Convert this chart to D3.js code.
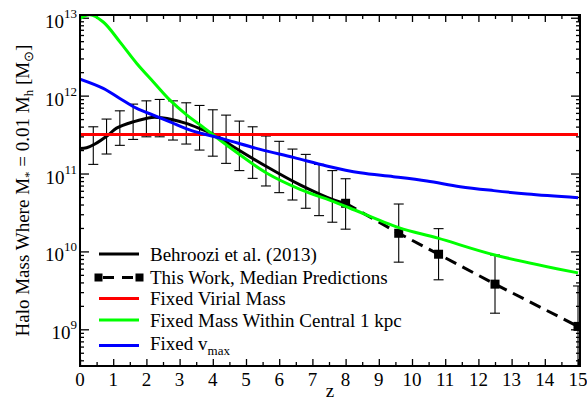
<!DOCTYPE html>
<html>
<head>
<meta charset="utf-8">
<script src="https://cdn.jsdelivr.net/npm/d3@7"></script>
<style>
  body { margin: 0; background: #fff; }
  text { font-family: "Liberation Serif", "Times New Roman", serif; fill: #000; }
</style>
</head>
<body>
<svg id="chart" width="587" height="402"></svg>
<script>
// Behroozi et al. (2013) median relation and its uncertainty
const behrooziZ = [0, 0.2, 0.45, 0.85, 1.1, 1.6, 2.16, 2.46, 3.17, 3.67, 4.07, 4.62, 5.63, 6.63, 7.64, 8];
const behrooziM = [2.10e11, 2.14e11, 2.39e11, 3.12e11, 3.83e11, 4.61e11, 5.25e11, 5.19e11, 4.44e11, 3.69e11, 3.12e11, 2.21e11, 1.22e11, 7.13e10, 4.57e10, 4.15e10];
const behrooziErrZ  = [0.4, 0.8, 1.2, 1.6, 2.0, 2.4, 2.8, 3.2, 3.6, 4.0, 4.4, 4.8, 5.2, 5.6, 6.0, 6.4, 6.8, 7.2, 7.6, 8.0];
const behrooziErrHi = [3.98e11, 5.0e11, 6.38e11, 7.78e11, 8.57e11, 8.93e11, 8.57e11, 8.09e11, 7.48e11, 6.58e11, 5.62e11, 4.71e11, 3.98e11, 3.03e11, 2.59e11, 2.06e11, 1.76e11, 1.31e11, 1.09e11, 8.57e10];
const behrooziErrLo = [1.31e11, 1.78e11, 2.30e11, 2.74e11, 2.96e11, 2.96e11, 2.69e11, 2.39e11, 2.0e11, 1.67e11, 1.35e11, 1.09e11, 8.67e10, 6.92e10, 5.68e10, 4.57e10, 3.58e10, 2.88e10, 2.37e10, 1.93e10];

// Median predictions of this work
const workZ  = [8, 9.6, 10.8, 12.5, 15];
const workM  = [4.15e10, 1.71e10, 9.2e9, 3.8e9, 1.09e9];
const workErrZ  = [9.6, 10.8, 12.5, 15];
const workErrHi = [4.06e10, 1.96e10, 9.0e9, 3.6e9];
const workErrLo = [7.28e9, 4.32e9, 1.61e9, 1.0e8];

// Fixed virial mass
const virialZ = [0, 15];
const virialM = [3.16e11, 3.16e11];

// Fixed mass within the central 1 kpc
const centralZ = [0, 0.3, 0.7, 1.2, 1.71, 2.21, 2.71, 3.22, 3.62, 4.62, 5.63, 6.63, 7.64, 8.14, 9.6, 10.78, 12.49, 15];
const centralM = [9.77e12, 1.09e13, 8.81e12, 4.90e12, 2.59e12, 1.50e12, 8.75e11, 5.62e11, 4.19e11, 2.0e11, 1.01e11, 6.27e10, 4.35e10, 3.58e10, 2.02e10, 1.48e10, 9.0e9, 5.3e9];

// Fixed v_max
const vmaxZ = [0, 0.7, 1.2, 1.71, 2.21, 2.71, 3.32, 4.36, 5.43, 6.43, 7.43, 8.44, 9.44, 10.45, 11.45, 12.46, 13.47, 15];
const vmaxM = [1.63e12, 1.24e12, 9.20e11, 6.85e11, 5.62e11, 4.61e11, 3.61e11, 2.74e11, 2.04e11, 1.61e11, 1.25e11, 1.02e11, 9.1e10, 8.0e10, 6.78e10, 6.03e10, 5.46e10, 4.9e10];

// Axis ticks
const xTicks = d3.range(0, 16);
const xMinorTicks = d3.range(0.5, 15, 1);
const yTicks = [1e9, 1e10, 1e11, 1e12, 1e13];
const yTickExp = ["9", "10", "11", "12", "13"];

const legendLabels = ["Behroozi et al. (2013)", "This Work, Median Predictions", "Fixed Virial Mass", "Fixed Mass Within Central 1 kpc", "Fixed v"];

const svg = d3.select("#chart");
const L = 80, R = 580, T = 15, B = 366;

const x = d3.scaleLinear().domain([0, 15.06]).range([L, R]);
const y = d3.scaleLog().domain([3.38e8, 1.084e13]).range([B, T]);

// log minor ticks: 2..9 within each decade
const yMinor = [];
for (let e = 8; e <= 13; e++) for (let k = 2; k <= 9; k++) {
  const v = k * Math.pow(10, e);
  if (v > y.domain()[0] && v < y.domain()[1]) yMinor.push(v);
}

svg.append("defs").append("clipPath").attr("id", "plot-clip")
  .append("rect").attr("x", L).attr("y", T).attr("width", R - L).attr("height", B - T);

// ---- axes (ticks point inward on all four sides) ----
function tickAxis(axis, g) {
  g.call(axis);
  g.select(".domain").remove();
  g.selectAll("line").attr("stroke", "#000").attr("stroke-width", 1.3);
}
tickAxis(d3.axisBottom(x).tickValues(xTicks).tickSize(-7).tickFormat(""), svg.append("g").attr("transform", `translate(0,${B})`));
tickAxis(d3.axisBottom(x).tickValues(xMinorTicks).tickSize(-4).tickFormat(""), svg.append("g").attr("transform", `translate(0,${B})`));
tickAxis(d3.axisTop(x).tickValues(xTicks).tickSize(-7).tickFormat(""), svg.append("g").attr("transform", `translate(0,${T})`));
tickAxis(d3.axisTop(x).tickValues(xMinorTicks).tickSize(-4).tickFormat(""), svg.append("g").attr("transform", `translate(0,${T})`));
tickAxis(d3.axisLeft(y).tickValues(yTicks).tickSize(-9).tickFormat(""), svg.append("g").attr("transform", `translate(${L},0)`));
tickAxis(d3.axisLeft(y).tickValues(yMinor).tickSize(-4).tickFormat(""), svg.append("g").attr("transform", `translate(${L},0)`));
tickAxis(d3.axisRight(y).tickValues(yTicks).tickSize(-9).tickFormat(""), svg.append("g").attr("transform", `translate(${R},0)`));
tickAxis(d3.axisRight(y).tickValues(yMinor).tickSize(-4).tickFormat(""), svg.append("g").attr("transform", `translate(${R},0)`));

// x tick labels
svg.append("g").selectAll("text").data(xTicks).join("text")
  .attr("x", d => x(d)).attr("y", B + 20)
  .attr("text-anchor", "middle").attr("font-size", 19)
  .text(d => d);

// y tick labels as powers of ten
const yl = svg.append("g").selectAll("text").data(yTicks).join("text")
  .attr("x", 77).attr("y", d => y(d) + 10)
  .attr("text-anchor", "end").attr("font-size", 19);
yl.append("tspan").text("10");
yl.append("tspan").attr("dy", -10).attr("font-size", 13).text((d, i) => yTickExp[i]);

// axis titles
svg.append("text").attr("x", (L + R) / 2).attr("y", 397)
  .attr("text-anchor", "middle").attr("font-size", 19).text("z");

const yt = svg.append("text")
  .attr("transform", `translate(29,${(T + B) / 2}) rotate(-90)`)
  .attr("text-anchor", "middle").attr("font-size", 19);
yt.append("tspan").text("Halo Mass Where M");
yt.append("tspan").attr("dy", 4).attr("font-size", 13).text("*");
yt.append("tspan").attr("dy", -4).text(" = 0.01 M");
yt.append("tspan").attr("dy", 4).attr("font-size", 13).text("h");
yt.append("tspan").attr("dy", -4).text(" [M");
yt.append("tspan").attr("dy", 4).attr("font-size", 13).text("\u2299");
yt.append("tspan").attr("dy", -4).text("]");

// ---- data ----
const plot = svg.append("g").attr("clip-path", "url(#plot-clip)");

function errorBars(zs, his, los) {
  const g = plot.append("g").attr("stroke", "#000").attr("stroke-width", 1.1).attr("fill", "none");
  zs.forEach((z, i) => {
    const cx = x(z), y1 = y(his[i]), y0 = y(los[i]);
    g.append("line").attr("x1", cx).attr("x2", cx).attr("y1", y1).attr("y2", y0);
    g.append("line").attr("x1", cx - 5).attr("x2", cx + 5).attr("y1", y1).attr("y2", y1);
    g.append("line").attr("x1", cx - 5).attr("x2", cx + 5).attr("y1", y0).attr("y2", y0);
  });
}
errorBars(behrooziErrZ, behrooziErrHi, behrooziErrLo);
errorBars(workErrZ, workErrHi, workErrLo);

function series(zs, ms, color, curve, dash) {
  const line = d3.line().x((d, i) => x(zs[i])).y(d => y(d)).curve(curve);
  const p = plot.append("path").datum(ms).attr("d", line)
    .attr("fill", "none").attr("stroke", color).attr("stroke-width", 3)
    .attr("stroke-linejoin", "round");
  if (dash) p.attr("stroke-dasharray", dash);
  return p;
}
const smooth = d3.curveCatmullRom.alpha(0.5);
series(behrooziZ, behrooziM, "#000", smooth);
series(workZ, workM, "#000", d3.curveLinear, "12,7");
plot.append("g").selectAll("rect").data(workM).join("rect")
  .attr("x", (d, i) => x(workZ[i]) - 4.5).attr("y", d => y(d) - 4.5)
  .attr("width", 9).attr("height", 9).attr("fill", "#000");
series(virialZ, virialM, "#ff0000", d3.curveLinear);
series(centralZ, centralM, "#00ff00", smooth);
series(vmaxZ, vmaxM, "#0000ff", smooth);

// frame
svg.append("rect").attr("x", L).attr("y", T).attr("width", R - L).attr("height", B - T)
  .attr("fill", "none").attr("stroke", "#000").attr("stroke-width", 2);

// ---- legend ----
const legendColors = ["#000", "#000", "#ff0000", "#00ff00", "#0000ff"];
const legendY = [254, 277.5, 298.5, 320, 345.5];
const lg = svg.append("g");
legendLabels.forEach((lab, i) => {
  const ly = legendY[i];
  const ln = lg.append("line").attr("x1", 99).attr("x2", 139).attr("y1", ly).attr("y2", ly)
    .attr("stroke", legendColors[i]).attr("stroke-width", 3);
  if (i === 1) {
    ln.attr("stroke-dasharray", "0,4,11,8,11,10");
    [98.5, 139.5].forEach(mx => lg.append("rect").attr("x", mx - 4).attr("y", ly - 4)
      .attr("width", 8).attr("height", 8).attr("fill", "#000"));
  }
  const t = lg.append("text").attr("x", 150).attr("y", ly + 6.5).attr("font-size", 19);
  t.append("tspan").text(lab);
  if (i === 4) {
    t.attr("y", ly + 4.5);
    t.append("tspan").attr("dy", 5).attr("font-size", 13).text("max");
  }
});
</script>
</body>
</html>
